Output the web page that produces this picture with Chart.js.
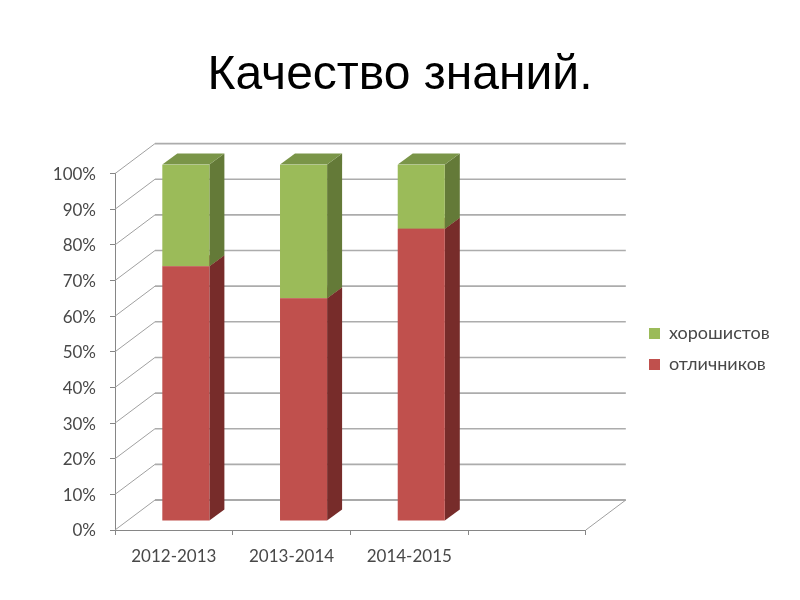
<!DOCTYPE html>
<html>
<head>
<meta charset="utf-8">
<style>
  html, body { margin: 0; padding: 0; background: #fff; }
  #wrap { width: 800px; height: 600px; }
</style>
<script src="https://cdn.jsdelivr.net/npm/chart.js@4"></script>
</head>
<body>
<div id="wrap"><canvas id="grafico" width="800" height="600"></canvas></div>
<script>
const titulo = 'Качество знаний.';
const anos = ['2012-2013', '2013-2014', '2014-2015', ''];
const otlichnikov = [71.5, 62.5, 82, null];
const horoshistov = [28.5, 37.5, 18, null];

// depth of the 3D box and how far the bars sit inside it
const wall = { dx: 40, dy: -30 };
const inset = { dx: 12, dy: -9 };
const side = { dx: 15, dy: -11 };

const corFrente = { 'отличников': '#C0504D', 'хорошистов': '#9BBB59' };
const corLado = { 'отличников': '#772C2A', 'хорошистов': '#647A38' };
const corTopo = { 'отличников': '#98403D', 'хорошистов': '#7A9548' };

function face(ctx, pts, cor) {
  ctx.fillStyle = cor;
  ctx.beginPath();
  pts.forEach((p, i) => i ? ctx.lineTo(p[0], p[1]) : ctx.moveTo(p[0], p[1]));
  ctx.closePath();
  ctx.fill();
}

function linha(ctx, x0, y0, x1, y1, cor, largura) {
  ctx.strokeStyle = cor;
  ctx.lineWidth = largura;
  ctx.beginPath();
  ctx.moveTo(x0, y0);
  ctx.lineTo(x1, y1);
  ctx.stroke();
}

const caixa3d = {
  id: 'caixa3d',
  afterLayout(chart) {
    // title is centred on the page, legend sits away from where the layout puts it
    chart.titleBlock.left = 0;
    chart.titleBlock.right = 800;
    chart.legend.left = 636;
    chart.legend.right = 800;
    chart.legend.top = 49;
    chart.legend.bottom = 649;
  },
  beforeDatasetsDraw(chart) {
    const { ctx, scales } = chart;
    const left = scales.x.left, right = scales.x.right;

    // walls: lines on the back plane and diagonals on the left wall and floor
    ctx.save();
    scales.y.ticks.forEach(t => {
      const y = scales.y.getPixelForValue(t.value);
      linha(ctx, left, y, left + wall.dx, y + wall.dy, '#a0a0a0', 1);
      linha(ctx, left + wall.dx, y + wall.dy, right + wall.dx, y + wall.dy, t.value === 0 ? '#8c8c8c' : '#acacac', 1.6);
    });
    const y0 = scales.y.getPixelForValue(0);
    linha(ctx, right, y0, right + wall.dx, y0 + wall.dy, '#a0a0a0', 1);
    ctx.restore();

    // bars sit inside the box, restored in afterDatasetsDraw
    ctx.save();
    ctx.translate(inset.dx, inset.dy);
    chart.data.datasets.forEach((ds, i) => {
      chart.getDatasetMeta(i).data.forEach((bar, j) => {
        if (ds.data[j] == null) return;
        const x1 = bar.x + bar.width / 2, x0 = bar.x - bar.width / 2;
        face(ctx, [[x1, bar.base], [x1 + side.dx, bar.base + side.dy], [x1 + side.dx, bar.y + side.dy], [x1, bar.y]], corLado[ds.label]);
        face(ctx, [[x0, bar.y], [x0 + side.dx, bar.y + side.dy], [x1 + side.dx, bar.y + side.dy], [x1, bar.y]], corTopo[ds.label]);
      });
    });
  },
  afterDatasetsDraw(chart) {
    chart.ctx.restore();
  }
};

new Chart(document.getElementById('grafico'), {
  type: 'bar',
  plugins: [caixa3d],
  data: {
    labels: anos,
    datasets: [
      { label: 'отличников', data: otlichnikov, backgroundColor: corFrente['отличников'] },
      { label: 'хорошистов', data: horoshistov, backgroundColor: corFrente['хорошистов'] }
    ]
  },
  options: {
    responsive: false,
    animation: false,
    layout: { padding: { left: 0, right: 70.5, top: 0, bottom: 0 } },
    datasets: { bar: { categoryPercentage: 1, barPercentage: 0.4 } },
    plugins: {
      tooltip: { enabled: false },
      title: {
        display: true,
        text: titulo,
        color: '#000',
        font: { family: '"Liberation Sans"', size: 48, weight: 'normal' },
        padding: { top: 47, bottom: 69 }
      },
      legend: {
        position: 'right',
        reverse: true,
        labels: {
          color: '#484848',
          font: { family: 'Lato', size: 18 },
          boxWidth: 11,
          boxHeight: 11,
          padding: 13
        }
      }
    },
    scales: {
      x: {
        stacked: true,
        afterFit(s) { s.height = 70; },
        border: { color: '#868686', width: 1 },
        grid: { drawOnChartArea: false, color: '#868686', tickLength: 5 },
        ticks: { color: '#484848', font: { family: 'Lato', size: 17 }, padding: 11, maxRotation: 0 }
      },
      y: {
        stacked: true,
        min: 0,
        max: 100,
        afterFit(s) { s.width = 115; },
        border: { color: '#868686', width: 1 },
        grid: { drawOnChartArea: false, color: '#868686', tickLength: 5 },
        ticks: {
          stepSize: 10,
          color: '#484848',
          font: { family: 'Lato', size: 17 },
          padding: 14,
          labelOffset: 1,
          callback: v => v + '%'
        }
      }
    }
  }
});
</script>
</body>
</html>
